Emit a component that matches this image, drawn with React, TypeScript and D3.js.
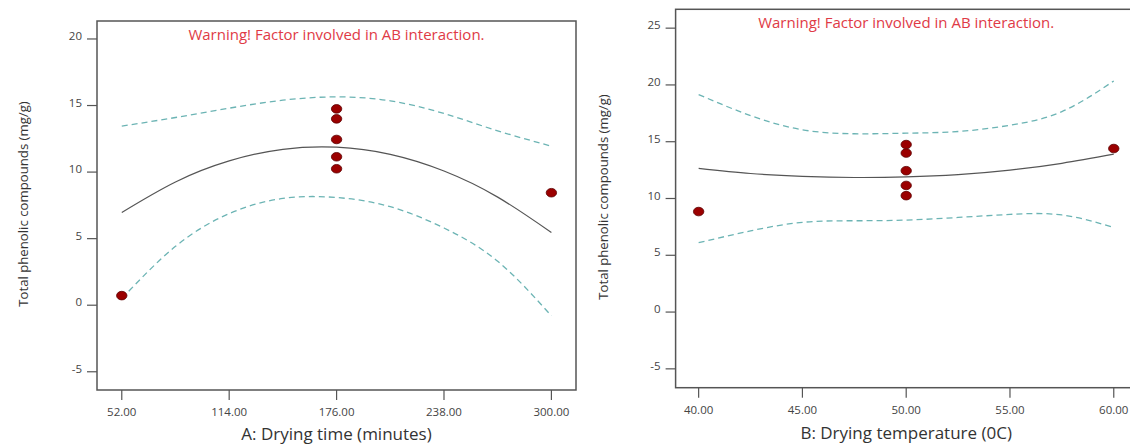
import React from "react";
import * as d3 from "d3";

// panel A: drying time
const timeTicks = [52, 114, 176, 238, 300];
const timeGrid = [52, 83, 114, 145, 176, 207, 238, 269, 300];
const timeFit = [6.97, 9.26, 10.84, 11.71, 11.87, 11.33, 10.08, 8.12, 5.46];
const timeUpper = [13.45, 14.1, 14.8, 15.4, 15.65, 15.35, 14.4, 13.1, 11.95];
const timeLower = [0.5, 4.42, 6.88, 8.02, 8.09, 7.4, 5.8, 3.3, -0.8];
const timePointsX = [52, 176, 176, 176, 176, 176, 300];
const timePointsY = [0.72, 14.75, 14.0, 12.45, 11.15, 10.25, 8.45];

// panel B: drying temperature
const tempTicks = [40, 45, 50, 55, 60];
const tempGrid = [40, 42.5, 45, 47.5, 50, 52.5, 55, 57.5, 60];
const tempFit = [12.65, 12.2, 11.95, 11.85, 11.9, 12.1, 12.5, 13.1, 13.9];
const tempUpper = [19.15, 17.3, 16.05, 15.7, 15.75, 15.9, 16.45, 17.65, 20.35];
const tempLower = [6.11, 7.15, 7.9, 8.04, 8.1, 8.33, 8.6, 8.55, 7.45];
const tempPointsX = [40, 50, 50, 50, 50, 50, 60];
const tempPointsY = [8.85, 14.75, 14.0, 12.45, 11.15, 10.25, 14.4];

const yTicksA = [-5, 0, 5, 10, 15, 20];
const yTicksB = [-5, 0, 5, 10, 15, 20, 25];

const FONT = "'Open Sans', 'Noto Sans', sans-serif";
const AXIS = "#555";
const TEXT = "#444";

type PanelProps = {
  left: number;
  right: number;
  top: number;
  bottom: number;
  xDomain: [number, number];
  yDomain: [number, number];
  xTicks: number[];
  yTicks: number[];
  grid: number[];
  fit: number[];
  upper: number[];
  lower: number[];
  px: number[];
  py: number[];
  xTitle: string;
  xTitleY: number;
  yTitleX: number;
  yTitleY: number;
  titleY: number;
};

function Panel(p: PanelProps) {
  const x = d3.scaleLinear().domain(p.xDomain).range([p.left, p.right]);
  const y = d3.scaleLinear().domain(p.yDomain).range([p.bottom, p.top]);
  const line = (vals: number[]) =>
    d3
      .line<number>()
      .x((_, i) => x(p.grid[i]))
      .y((v) => y(v))
      .curve(d3.curveNatural)(vals) || "";
  const midX = (x(p.xDomain[0]) + x(p.xDomain[1])) / 2;
  return (
    <g>
      <rect
        x={p.left}
        y={p.top}
        width={p.right - p.left}
        height={p.bottom - p.top}
        fill="none"
        stroke={AXIS}
        strokeWidth={1.5}
      />
      {p.yTicks.map((t) => (
        <g key={"y" + t}>
          <line x1={p.left - 10} x2={p.left} y1={y(t)} y2={y(t)} stroke={AXIS} strokeWidth={1.2} />
          <text x={p.left - 15} y={y(t)} dy="0.1em" textAnchor="end" fontSize={11.5} fill={TEXT} fontFamily={FONT}>
            {t}
          </text>
        </g>
      ))}
      {p.xTicks.map((t) => (
        <g key={"x" + t}>
          <line x1={x(t)} x2={x(t)} y1={p.bottom} y2={p.bottom + 10} stroke={AXIS} strokeWidth={1.2} />
          <text x={x(t)} y={p.bottom + 26} textAnchor="middle" fontSize={11.5} fill={TEXT} fontFamily={FONT}>
            {t.toFixed(2)}
          </text>
        </g>
      ))}
      <path d={line(p.upper)} fill="none" stroke="#6cb4b4" strokeWidth={1.3} strokeDasharray="6,4" />
      <path d={line(p.lower)} fill="none" stroke="#6cb4b4" strokeWidth={1.3} strokeDasharray="6,4" />
      <path d={line(p.fit)} fill="none" stroke="#555" strokeWidth={1.2} />
      {p.px.map((v, i) => (
        <ellipse key={i} cx={x(v)} cy={y(p.py[i])} rx={5.2} ry={4.3} fill="#9b0000" stroke="#5a0000" strokeWidth={0.8} />
      ))}
      <text x={midX} y={p.titleY} textAnchor="middle" fontSize={15} fill="#e03a46" fontFamily={FONT}>
        Warning! Factor involved in AB interaction.
      </text>
      <text x={midX} y={p.xTitleY} textAnchor="middle" fontSize={17} fill="#333" fontFamily={FONT}>
        {p.xTitle}
      </text>
      <text
        transform={`translate(${p.yTitleX},${p.yTitleY}) rotate(-90)`}
        textAnchor="middle"
        fontSize={13.2}
        fill="#333"
        fontFamily={FONT}
      >
        Total phenolic compounds (mg/g)
      </text>
    </g>
  );
}

export default function App() {
  return (
    <div style={{ position: "absolute", left: 0, top: 0 }}>
      <svg width={1130} height={445} style={{ display: "block", background: "#fff" }}>
        <Panel
          left={97}
          right={576}
          top={21}
          bottom={390}
          xDomain={[37.7, 314.2]}
          yDomain={[-6.37, 21.35]}
          xTicks={timeTicks}
          yTicks={yTicksA}
          grid={timeGrid}
          fit={timeFit}
          upper={timeUpper}
          lower={timeLower}
          px={timePointsX}
          py={timePointsY}
          xTitle="A: Drying time (minutes)"
          xTitleY={440}
          yTitleX={28}
          yTitleY={204}
          titleY={39.5}
        />
        <Panel
          left={675.6}
          right={1136.8}
          top={9.3}
          bottom={387.7}
          xDomain={[38.89, 61.11]}
          yDomain={[-6.66, 26.66]}
          xTicks={tempTicks}
          yTicks={yTicksB}
          grid={tempGrid}
          fit={tempFit}
          upper={tempUpper}
          lower={tempLower}
          px={tempPointsX}
          py={tempPointsY}
          xTitle="B: Drying temperature (0C)"
          xTitleY={439}
          yTitleX={608}
          yTitleY={197}
          titleY={28}
        />
      </svg>
    </div>
  );
}
